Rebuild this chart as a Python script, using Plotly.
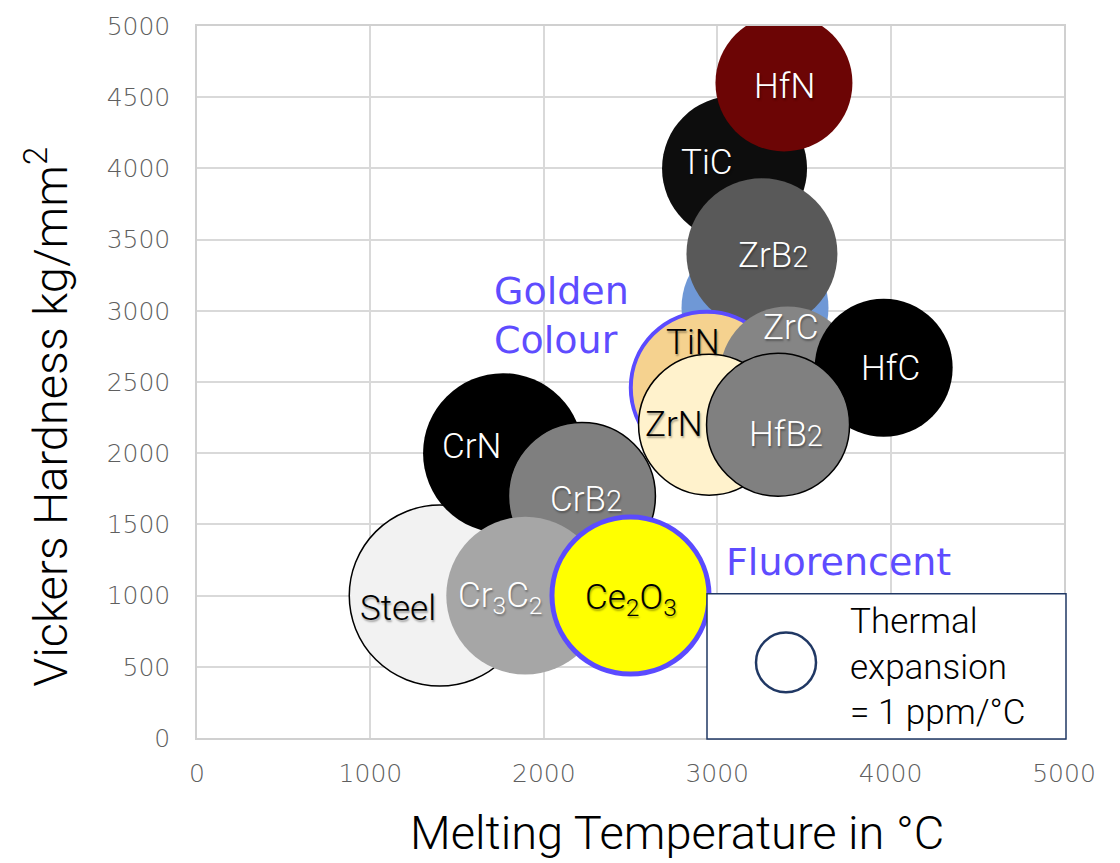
import plotly.graph_objects as go

# ---------------- data ----------------
materials = ["Steel", "CrN", "CrB2", "Cr3C2", "Ce2O3", "TiB2", "TiC", "HfN",
             "ZrB2", "TiN", "ZrC", "HfC", "ZrN", "HfB2"]
labels = ["Steel", "CrN", "CrB<span style='font-size:29px'>2</span>",
          "Cr<sub>3</sub>C<sub>2</sub>", "Ce<sub>2</sub>O<sub>3</sub>", "",
          "TiC", "HfN", "ZrB<span style='font-size:29px'>2</span>", "TiN",
          "ZrC", "HfC", "ZrN", "HfB<span style='font-size:29px'>2</span>"]
melting_temp = [1400, 1765, 2220, 1893, 2500, 3218, 3100, 3385,
                3258, 2940, 3406, 3960, 2953, 3351]          # °C
hardness = [1000, 2000, 1700, 1000, 1000, 3020, 4000, 4600,
            3400, 2460, 2557, 2600, 2200, 2200]               # kg/mm²
thermal_expansion = [9.10, 7.11, 6.00, 6.93, 6.85, 6.00, 5.84, 5.21,
                     6.33, 6.42, 5.06, 5.29, 5.52, 5.68]      # ppm/°C (bubble area)
legend_reference = 1.0                                        # ppm/°C

x_ticks = [0, 1000, 2000, 3000, 4000, 5000]
y_ticks = [0, 500, 1000, 1500, 2000, 2500, 3000, 3500, 4000, 4500, 5000]

# ---------------- styles ----------------
fill_colors = ["#f2f2f2", "#000000", "#7f7f7f", "#a6a6a6", "#ffff00", "#6f98d6",
               "#0d0d0d", "#6c0505", "#595959", "#f5d28f", "#858585", "#000000",
               "#fff2cc", "#808080"]
line_colors = ["#000000", "#000000", "#000000", "#a6a6a6", "#5b4bff", "#6f98d6",
               "#0d0d0d", "#6c0505", "#595959", "#5b4bff", "#858585", "#000000",
               "#000000", "#000000"]
line_widths = [1.5, 0, 1.5, 0, 5, 0, 0, 0, 0, 4, 0, 0, 1.5, 1.5]
label_colors = ["#000000", "#ffffff", "#ffffff", "#ffffff", "#000000", "#ffffff",
                "#ffffff", "#ffffff", "#ffffff", "#000000", "#ffffff", "#ffffff",
                "#000000", "#ffffff"]
label_dx = [-42, -32, 4, -25, 0, 0, -28, 1, 11, -14, 3, 7, -35, 8]
label_dy = [-13, 7, -4, -2, -4, 0, 6, -4, -2, 45, 46, -1, 0, -10]

SIZEREF = 2.0 / 3600.0   # 1 ppm/°C -> 60 px diameter

W, H = 1120, 863
ML, MR, MT, MB = 197, 56, 22, 125
PW, PH = W - ML - MR, H - MT - MB

LIGHT = "Roboto, Liberation Sans, Arial, sans-serif"

def px_to_paper(px, py):
    return (px - ML) / PW, (H - MB - py) / PH

fig = go.Figure()
fig.add_trace(go.Scatter(
    x=melting_temp, y=hardness, mode="markers",
    text=materials, hoverinfo="text",
    marker=dict(size=thermal_expansion, sizemode="area", sizeref=SIZEREF,
                color=fill_colors, opacity=1,
                line=dict(color=line_colors, width=line_widths)),
    cliponaxis=True,
))

annotations = []
shadow = "1px 2px 2px rgba(0,0,0,0.35)"
for i, lab in enumerate(labels):
    if not lab:
        continue
    annotations.append(dict(
        x=melting_temp[i], y=hardness[i], xref="x", yref="y", text=lab,
        showarrow=False, xshift=label_dx[i], yshift=label_dy[i],
        font=dict(family=LIGHT, size=35, weight=300,
                  color=label_colors[i], shadow=shadow)))

# axis titles
ax, ay = px_to_paper(677, 833)
annotations.append(dict(x=ax, y=ay, xref="paper", yref="paper", showarrow=False,
                        text="Melting Temperature in °C", xanchor="center", yanchor="middle",
                        font=dict(family=LIGHT, size=47, weight=300, color="#000000")))
bx, by = px_to_paper(47, 415)
annotations.append(dict(x=bx, y=by, xref="paper", yref="paper", showarrow=False,
                        text="Vickers Hardness kg/mm<sup>2</sup>", textangle=-90,
                        xanchor="center", yanchor="middle",
                        font=dict(family=LIGHT, size=47, weight=300, color="#000000")))

# callouts
gx, gy = px_to_paper(492, 313)
annotations.append(dict(x=gx, y=gy, xref="paper", yref="paper", showarrow=False,
                        text="Golden<br>Colour", xanchor="left", yanchor="middle", align="left",
                        font=dict(family="DejaVu Sans, sans-serif", size=38, color="#5e4cff")))
fx, fy = px_to_paper(724, 561)
annotations.append(dict(x=fx, y=fy, xref="paper", yref="paper", showarrow=False,
                        text="Fluorencent", xanchor="left", yanchor="middle", align="left",
                        font=dict(family="DejaVu Sans, sans-serif", size=38, color="#5e4cff")))

# size legend
lx, ly = px_to_paper(848, 667)
annotations.append(dict(x=lx, y=ly, xref="paper", yref="paper", showarrow=False,
                        text="Thermal<br>expansion<br>= 1 ppm/°C", xanchor="left", yanchor="middle",
                        align="left",
                        font=dict(family=LIGHT, size=35, weight=300, color="#000000")))

shapes = []
bx0, by0 = px_to_paper(707, 739)
bx1, by1 = px_to_paper(1066, 593)
shapes.append(dict(type="rect", xref="paper", yref="paper", x0=bx0, y0=by0, x1=bx1, y1=by1,
                   line=dict(color="#203864", width=1.5), fillcolor="#ffffff", layer="above"))
leg_d = (2 * legend_reference / SIZEREF) ** 0.5
cx, cy = 786, 662
c0 = px_to_paper(cx - leg_d / 2, cy + leg_d / 2)
c1 = px_to_paper(cx + leg_d / 2, cy - leg_d / 2)
shapes.append(dict(type="circle", xref="paper", yref="paper", x0=c0[0], y0=c0[1], x1=c1[0], y1=c1[1],
                   line=dict(color="#203864", width=2.5), fillcolor="#ffffff", layer="above"))

fig.update_layout(
    width=W, height=H, margin=dict(l=ML, r=MR, t=MT, b=MB),
    plot_bgcolor="#ffffff", paper_bgcolor="#ffffff", showlegend=False,
    annotations=annotations, shapes=shapes,
)
tickfont = dict(family="DejaVu Sans, sans-serif", size=25, weight=200, color="#5f5f5f")
fig.update_xaxes(range=[0, 5000], tickvals=x_ticks, ticktext=[str(v) for v in x_ticks],
                 showgrid=True, gridcolor="#d9d9d9", gridwidth=1.5, zeroline=False,
                 showline=True, linecolor="#d0d0d0", linewidth=1.5, mirror=True,
                 ticks="", tickfont=tickfont, ticklabelstandoff=12)
fig.update_yaxes(range=[0, 5000], tickvals=y_ticks, ticktext=[str(v) for v in y_ticks],
                 showgrid=True, gridcolor="#d9d9d9", gridwidth=1.5, zeroline=False,
                 showline=True, linecolor="#d0d0d0", linewidth=1.5, mirror=True,
                 ticks="", tickfont=tickfont, ticklabelstandoff=20)

fig.write_html("out.html")
